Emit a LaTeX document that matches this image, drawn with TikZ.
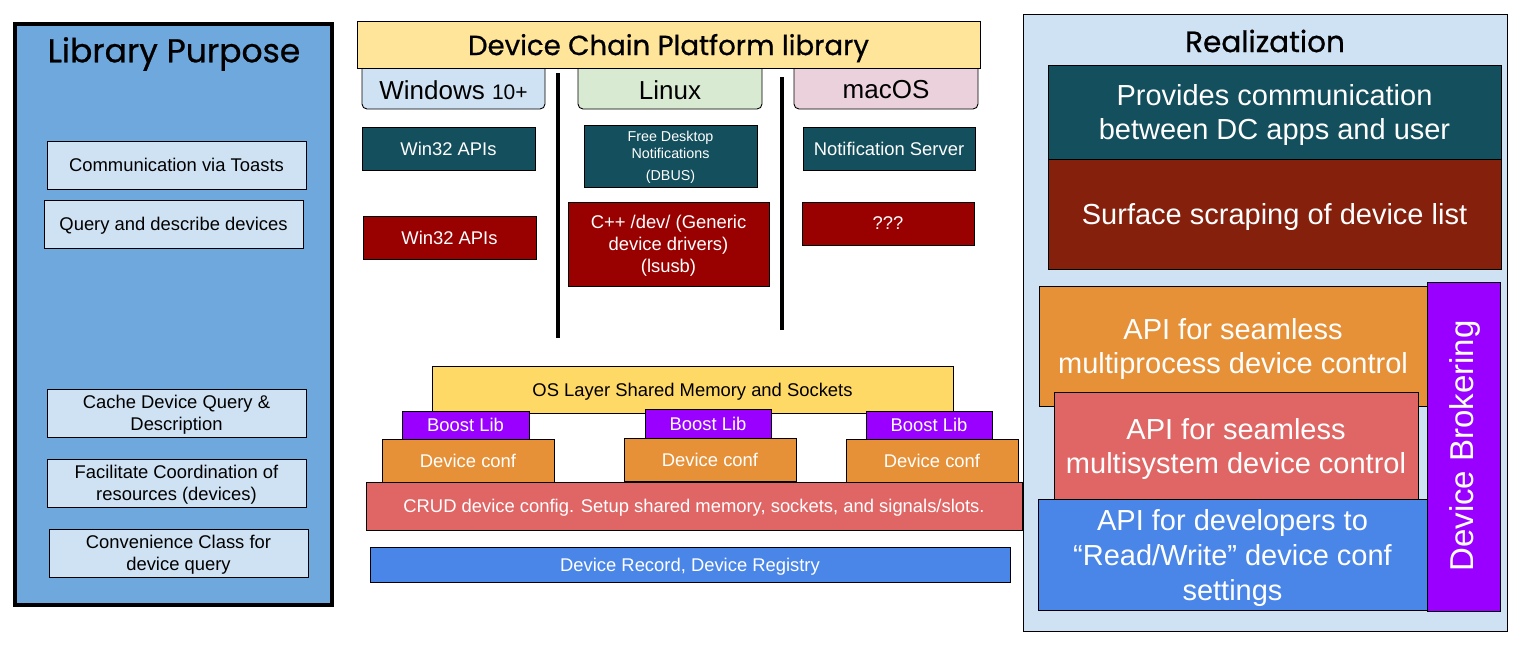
\documentclass[tikz,border=0pt]{standalone}
\usepackage{fontspec}
\setmainfont{Liberation Sans}
\newfontfamily\titlefont[BoldFont={Poppins}, BoldFeatures={FakeBold=0.7}]{Poppins}
\definecolor{lpblue}{HTML}{6FA8DC}
\definecolor{pale}{HTML}{CFE2F3}
\definecolor{dcpy}{HTML}{FFE599}
\definecolor{linuxg}{HTML}{D9EAD3}
\definecolor{macp}{HTML}{EAD1DC}
\definecolor{tealc}{HTML}{134F5C}
\definecolor{dred}{HTML}{990000}
\definecolor{osy}{HTML}{FFD966}
\definecolor{purp}{HTML}{9900FF}
\definecolor{orng}{HTML}{E69138}
\definecolor{lred}{HTML}{E06666}
\definecolor{blu}{HTML}{4A86E8}
\definecolor{brownc}{HTML}{85200C}
\begin{document}
\begin{tikzpicture}[x=1pt,y=-1pt,
  box/.style={draw=black, line width=0.9pt, inner sep=0pt, align=center, text depth=0pt, font=\fontsize{18.4}{22}\selectfont},
  sz/.style 2 args={minimum width=#1pt, minimum height=#2pt},
  wbox/.style={box, text=white},
  ttl/.style={font=\titlefont\bfseries\fontsize{29}{34}\selectfont, inner sep=0pt},
  ostab/.style={draw=black, line width=0.9pt, inner sep=0pt, rounded corners=5pt},
  oslabel/.style={font=\fontsize{26}{30}\selectfont, inner sep=0pt},
  sepline/.style={line width=3.5pt, black},
  big/.style={box, text=white, font=\fontsize{29}{34}\selectfont}
]
\useasboundingbox (0,0) rectangle (1532,646);

% ---------- Left panel ----------
\node[draw=black, line width=3.5pt, fill=lpblue, sz={317}{581}, inner sep=0pt] (lp) at (173.5,314.5) {};
\node[ttl, font=\titlefont\bfseries\fontsize{33}{38}\selectfont] (lpt) at (174,54) {Library Purpose};
\node[box, fill=pale, sz={259}{48}] (lp1) at (176.5,165) {Communication via Toasts};
\node[box, fill=pale, sz={259}{48}] (lp2) at (173.5,224) {Query and describe devices};
\node[box, fill=pale, sz={259}{48}] (lp3) at (176.5,413) {Cache Device Query \&\\Description};
\node[box, fill=pale, sz={259}{48}] (lp4) at (176.5,483) {Facilitate Coordination of\\resources (devices)};
\node[box, fill=pale, sz={259}{48}] (lp5) at (178.5,553) {Convenience Class for\\device query};

% ---------- Middle: platforms ----------
\node[ostab, fill=pale, sz={183}{47}] (win) at (453.5,85.5) {};
\node[ostab, fill=linuxg, sz={184}{47}] (lin) at (670,85.5) {};
\node[ostab, fill=macp, sz={184}{47}] (mac) at (886,85.5) {};
\node[oslabel] (wint) at (453.5,90) {Windows {\fontsize{21}{24}\selectfont 10+}};
\node[oslabel] (lint) at (670,90) {Linux};
\node[oslabel] (mact) at (886,90) {macOS};
\node[box, fill=dcpy, sz={623}{47}, ttl, font=\titlefont\bfseries\fontsize{27.6}{32}\selectfont, text depth=0pt] (dcp) at (668.5,44.5) {Device Chain Platform library};

\node[wbox, fill=tealc, sz={173}{43}] (t1) at (448.5,148.5) {Win32 APIs};
\node[wbox, fill=tealc, sz={173}{62}, font=\fontsize{14.3}{17}\selectfont] (t2) at (670.5,156) {Free Desktop\\Notifications\\[5pt](DBUS)};
\node[wbox, fill=tealc, sz={172}{43}] (t3) at (889,148.5) {Notification Server};

\node[wbox, fill=dred, sz={173}{43}] (r1) at (449.5,237.5) {Win32 APIs};
\node[wbox, fill=dred, sz={201}{84}] (r2) at (668.5,244) {C++ /dev/ (Generic\\device drivers)\\(lsusb)};
\node[wbox, fill=dred, sz={172}{43}] (r3) at (888,223.5) {???};

\coordinate (s1a) at (558,73);
\coordinate (s1b) at (558,338);
\coordinate (s2a) at (782,77);
\coordinate (s2b) at (782,330);
\draw[sepline] (s1a) -- (s1b);
\draw[sepline] (s2a) -- (s2b);

% ---------- Middle: stack ----------
\node[box, fill=osy, sz={521}{47}] (osl) at (692.5,389.5) {OS Layer Shared Memory and Sockets};
\node[wbox, fill=purp, sz={127}{28}] (b1) at (465.5,425) {Boost Lib};
\node[wbox, fill=purp, sz={126}{29}] (b2) at (708,423.5) {Boost Lib};
\node[wbox, fill=purp, sz={126}{28}] (b3) at (929,425) {Boost Lib};
\node[wbox, fill=orng, sz={172}{43}] (d1) at (468,460.5) {Device conf};
\node[wbox, fill=orng, sz={172}{43}] (d2) at (710,459.5) {Device conf};
\node[wbox, fill=orng, sz={172}{43}] (d3) at (932,460.5) {Device conf};
\node[wbox, fill=lred, sz={656}{48}] (crud) at (694,506) {CRUD device config. Setup shared memory, sockets, and signals/slots.};
\node[wbox, fill=blu, sz={640}{35}] (rec) at (690,564.5) {Device Record, Device Registry};

% ---------- Right panel ----------
\node[box, fill=pale, sz={484}{617}] (rz) at (1265,322.5) {};
\node[ttl, font=\titlefont\bfseries\fontsize{29.5}{34}\selectfont] (rzt) at (1265,41) {Realization};
\node[big, fill=tealc, sz={453}{94}] (rz1) at (1274.5,112) {Provides communication\\between DC apps and user};
\node[big, fill=brownc, sz={453}{110}] (rz2) at (1274.5,214) {Surface scraping of device list};
\node[big, fill=orng, sz={388}{120}] (rz3) at (1233,346) {API for seamless\\multiprocess device control};
\node[big, fill=lred, sz={364}{107}] (rz4) at (1236,445.5) {API for seamless\\multisystem device control};
\node[big, fill=blu, sz={389}{111}, font=\fontsize{29}{35}\selectfont] (rz5) at (1232.5,554.5) {API for developers to\\``Read/Write'' device conf\\settings};
\node[box, fill=purp, sz={73}{329}] (rz6) at (1463.5,446.5) {};
\node[text=white, rotate=90, font=\fontsize{33}{38}\selectfont, inner sep=0pt] (rz6t) at (1465,446) {Device Brokering};
\end{tikzpicture}
\end{document}
